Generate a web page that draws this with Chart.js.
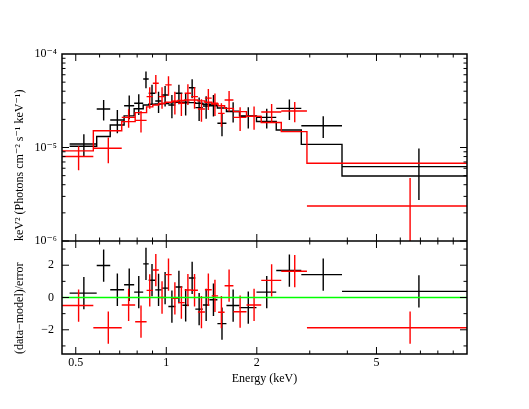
<!DOCTYPE html>
<html>
<head>
<meta charset="utf-8">
<script src="https://cdn.jsdelivr.net/npm/chart.js@4.4.1/dist/chart.umd.min.js"></script>
<style>
  html, body { margin: 0; padding: 0; background: #fff; }
</style>
</head>
<body>
<canvas id="spec" width="529" height="409"></canvas>
<script>
// black data group: bin edges (keV), unfolded flux, 1-sigma error, model, residual
var blackEdges = [0.477, 0.587, 0.651, 0.724, 0.782, 0.838, 0.874, 0.919, 0.966, 1.016, 1.072, 1.131,
                  1.189, 1.249, 1.323, 1.391, 1.479, 1.585, 1.752, 1.995, 2.321, 2.812, 3.84, 10];
var blackFlux = [1.09e-5, 2.58e-5, 1.97e-5, 2.8e-5, 2.97e-5, 5.4e-5, 3.8e-5, 3.14e-5, 3.65e-5, 2.85e-5, 3.8e-5, 3.0e-5,
                 4.36e-5, 2.67e-5, 2.78e-5, 2.9e-5, 1.82e-5, 2.45e-5, 2.15e-5, 2.1e-5, 2.62e-5, 1.71e-5, 6.24e-6];
var blackErr = [0.3e-5, 0.64e-5, 0.55e-5, 0.8e-5, 0.75e-5, 1.1e-5, 0.9e-5, 0.8e-5, 0.9e-5, 0.8e-5, 0.9e-5, 0.8e-5,
                1.0e-5, 0.75e-5, 0.75e-5, 0.75e-5, 0.5e-5, 0.6e-5, 0.55e-5, 0.5e-5, 0.65e-5, 0.45e-5, 3.5e-6];
var blackModel = [1.03e-5, 1.31e-5, 1.74e-5, 2.18e-5, 2.6e-5, 2.85e-5, 2.9e-5, 2.92e-5, 2.95e-5, 3.0e-5, 3.05e-5, 3.05e-5,
                  3.02e-5, 2.97e-5, 2.9e-5, 2.8e-5, 2.65e-5, 2.42e-5, 2.18e-5, 1.9e-5, 1.54e-5, 1.08e-5, 4.96e-6];
var blackResid = [0.27, 1.98, 0.48, 0.79, 0.33, 2.08, 1.07, 0.47, 0.58, -0.56, 0.65, -0.48,
                  1.21, -0.72, -0.46, -0.14, -1.62, -0.5, -0.63, 0.33, 1.67, 1.42, 0.38];

// red data group
var redEdges = [0.45, 0.572, 0.711, 0.788, 0.860, 0.902, 0.944, 0.992, 1.042, 1.094, 1.151, 1.209,
                1.274, 1.344, 1.416, 1.487, 1.563, 1.672, 1.848, 2.069, 2.412, 2.936, 10];
var redFlux = [0.80e-5, 0.98e-5, 2.1e-5, 1.95e-5, 3.5e-5, 4.87e-5, 3.5e-5, 4.67e-5, 3.1e-5, 2.97e-5, 3.8e-5,
               3.5e-5, 2.58e-5, 3.37e-5, 2.97e-5, 2.32e-5, 3.22e-5, 2.1e-5, 2.15e-5, 2.4e-5, 2.46e-5, 2.37e-6];
var redErr = [0.23e-5, 0.3e-5, 0.47e-5, 0.5e-5, 0.9e-5, 1.1e-5, 0.9e-5, 1.1e-5, 0.85e-5, 0.8e-5, 0.95e-5,
              0.9e-5, 0.7e-5, 0.85e-5, 0.8e-5, 0.65e-5, 0.8e-5, 0.6e-5, 0.6e-5, 0.52e-5, 0.6e-5, 2.36e-6];
var redModel = [9.2e-6, 1.51e-5, 1.89e-5, 2.36e-5, 2.72e-5, 2.85e-5, 2.95e-5, 3.05e-5, 3.12e-5, 3.18e-5, 3.22e-5,
                3.22e-5, 3.15e-5, 3.05e-5, 2.92e-5, 2.8e-5, 2.62e-5, 2.42e-5, 2.15e-5, 1.85e-5, 1.48e-5, 6.78e-6];
var redResid = [-0.5, -1.87, -0.46, -1.5, 0.44, 1.7, 0.0, 1.42, -0.05, -0.32, 0.46,
                0.45, -0.9, 0.48, 0.1, -0.91, 0.73, -0.88, -0.46, 1.06, 1.63, -1.87];

// axes
var xRange = [0.45, 10];
var xTickLabels = [0.5, 1, 2, 5];
var xMinorTicks = [0.5, 0.6, 0.7, 0.8, 0.9, 1, 2, 3, 4, 5, 6, 7, 8, 9];
var fluxRange = [1e-6, 1e-4];
var fluxTicks = [1e-6, 1e-5, 1e-4];
var fluxTickText = ['10\u207B\u2076', '10\u207B\u2075', '10\u207B\u2074'];
var residRange = [-3.5, 3.5];
var residTicks = [-3, -2, -1, 0, 1, 2, 3];
var residLabels = [-2, 0, 2];

function crosses(edges, vals, errs, floor) {
    var pts = [];
    for (var i = 0; i < vals.length; i++) {
        var lo = edges[i], hi = edges[i + 1], mid = (lo + hi) / 2;
        pts.push({x: lo, y: vals[i]}, {x: hi, y: vals[i]}, {x: hi, y: null});
        pts.push({x: mid, y: Math.max(vals[i] - errs[i], floor)}, {x: mid, y: vals[i] + errs[i]}, {x: mid, y: null});
    }
    return pts;
}

function steps(edges, vals) {
    var pts = [];
    for (var i = 0; i < vals.length; i++) {
        pts.push({x: edges[i], y: vals[i]}, {x: edges[i + 1], y: vals[i]});
    }
    return pts;
}

function ones(n) {
    var a = [];
    for (var i = 0; i < n; i++) a.push(1);
    return a;
}

function line(label, data, color, axis, order) {
    return {
        label: label, data: data, yAxisID: axis, order: order,
        showLine: true, borderColor: color, borderWidth: 1.4,
        pointRadius: 0, fill: false, spanGaps: false
    };
}

// frame + inward tick marks like the xspec plot
var framePlugin = {
    id: 'frame',
    afterDraw: function(chart) {
        var ctx = chart.ctx, a = chart.chartArea;
        var x = chart.scales.x, y = chart.scales.y, y2 = chart.scales.y2;
        var mid = y2.top;
        ctx.save();
        ctx.strokeStyle = '#000';
        ctx.lineWidth = 1.5;
        function seg(x0, y0, x1, y1) {
            ctx.beginPath(); ctx.moveTo(x0, y0); ctx.lineTo(x1, y1); ctx.stroke();
        }
        ctx.strokeRect(a.left, a.top, a.right - a.left, a.bottom - a.top);
        seg(a.left, mid, a.right, mid);
        ctx.lineWidth = 1;
        xMinorTicks.forEach(function(v) {
            var px = x.getPixelForValue(v);
            var len = xTickLabels.indexOf(v) >= 0 ? 7 : 3.5;
            seg(px, a.top, px, a.top + len);
            seg(px, mid, px, mid - len);
            seg(px, mid, px, mid + len);
            seg(px, a.bottom, px, a.bottom - len);
        });
        for (var e = -6; e < -4; e++) {
            for (var k = 1; k < 10; k++) {
                var py = y.getPixelForValue(k * Math.pow(10, e));
                var len = k === 1 ? 7 : 3.5;
                seg(a.left, py, a.left + len, py);
                seg(a.right, py, a.right - len, py);
            }
        }
        residTicks.forEach(function(v) {
            var py = y2.getPixelForValue(v);
            var len = residLabels.indexOf(v) >= 0 ? 7 : 3.5;
            seg(a.left, py, a.left + len, py);
            seg(a.right, py, a.right - len, py);
        });
        ctx.restore();
    }
};

Chart.defaults.font.family = "'Liberation Serif', 'DejaVu Serif', serif";
Chart.defaults.font.size = 12;
Chart.defaults.color = '#000';

var ctx = document.getElementById('spec').getContext('2d');
var specChart = new Chart(ctx, {
    type: 'scatter',
    data: {
        datasets: [
            line('zero', [{x: xRange[0], y: 0}, {x: xRange[1], y: 0}], '#00ff00', 'y2', 0),
            line('red data', crosses(redEdges, redFlux, redErr, fluxRange[0]), '#ff0000', 'y', 1),
            line('red model', steps(redEdges, redModel), '#ff0000', 'y', 2),
            line('red resid', crosses(redEdges, redResid, ones(redResid.length), residRange[0]), '#ff0000', 'y2', 1),
            line('black data', crosses(blackEdges, blackFlux, blackErr, fluxRange[0]), '#000000', 'y', 3),
            line('black model', steps(blackEdges, blackModel), '#000000', 'y', 4),
            line('black resid', crosses(blackEdges, blackResid, ones(blackResid.length), residRange[0]), '#000000', 'y2', 3)
        ]
    },
    options: {
        responsive: false,
        animation: false,
        events: [],
        layout: { padding: { top: 54, right: 62, left: 0, bottom: 0 } },
        plugins: { legend: { display: false }, tooltip: { enabled: false } },
        scales: {
            x: {
                type: 'logarithmic',
                position: 'bottom',
                min: xRange[0], max: xRange[1],
                grid: { display: false, drawTicks: false },
                border: { display: false },
                afterBuildTicks: function(axis) {
                    axis.ticks = xTickLabels.map(function(v) { return {value: v}; });
                },
                afterFit: function(axis) { axis.height = 55; },
                ticks: {
                    padding: 2, autoSkip: false, maxRotation: 0,
                    callback: function(v) { return String(v); }
                },
                title: { display: true, text: 'Energy (keV)', padding: { top: 0, bottom: 23 } }
            },
            y: {
                type: 'logarithmic',
                position: 'left',
                stack: 'panels', stackWeight: 187, weight: 2,
                min: fluxRange[0], max: fluxRange[1],
                grid: { display: false, drawTicks: false },
                border: { display: false },
                afterBuildTicks: function(axis) {
                    axis.ticks = fluxTicks.map(function(v) { return {value: v}; });
                },
                afterFit: function(axis) { axis.width = 62; },
                ticks: {
                    padding: 5, autoSkip: false,
                    callback: function(v, i) { return fluxTickText[i]; }
                },
                title: {
                    display: true, align: 'start',
                    text: 'keV\u00B2 (Photons cm\u207B\u00B2 s\u207B\u00B9 keV\u207B\u00B9)',
                    padding: { top: 13, bottom: 0 }
                }
            },
            y2: {
                type: 'linear',
                position: 'left',
                stack: 'panels', stackWeight: 113, weight: 1,
                min: residRange[0], max: residRange[1],
                grid: { display: false, drawTicks: false },
                border: { display: false },
                afterBuildTicks: function(axis) {
                    axis.ticks = residLabels.map(function(v) { return {value: v}; });
                },
                afterFit: function(axis) { axis.width = 62; },
                ticks: {
                    padding: 8, autoSkip: false,
                    callback: function(v) { return v < 0 ? '\u2212' + Math.abs(v) : String(v); }
                },
                title: {
                    display: true, align: 'start',
                    text: '(data\u2212model)/error',
                    padding: { top: 13, bottom: 0 }
                }
            }
        }
    },
    plugins: [framePlugin]
});
</script>
</body>
</html>
